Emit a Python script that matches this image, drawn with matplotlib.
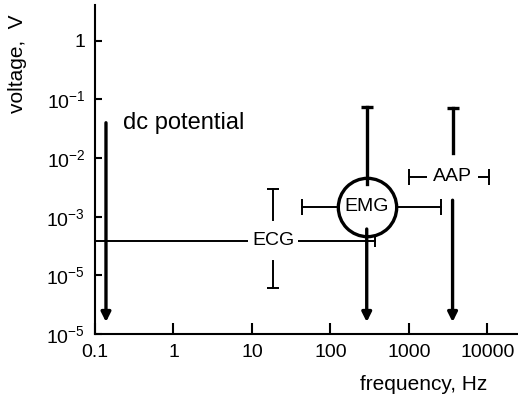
import matplotlib.pyplot as plt

plt.rcParams['font.family'] = ['Liberation Sans', 'DejaVu Sans']
plt.rcParams['mathtext.fontset'] = 'custom'
plt.rcParams['mathtext.rm'] = 'Liberation Sans'
plt.rcParams['mathtext.it'] = 'Liberation Sans:italic'
plt.rcParams['mathtext.bf'] = 'Liberation Sans:bold'

# axes
x_ticks = [0.1, 1, 10, 100, 1000, 10000]
x_ticklabels = ['0.1', '1', '10', '100', '1000', '10000']
y_ticks = [1, 1e-1, 1e-2, 1e-3, 1e-4, 1e-5]
y_ticklabels = ['1', '$10^{-1}$', '$10^{-2}$', '$10^{-3}$', '$10^{-5}$', '$10^{-5}$']

# dc potential
dc_freq = 0.138
dc_volt = [0.04, 1.6e-5]

# EMG
emg_freq = 290
emg_volt = [0.074, 1.6e-5]
emg_level = 1.48e-3
emg_freq_range = [44, 2600]

# ECG
ecg_freq = 18.6
ecg_level = 3.9e-4
ecg_volt_range = [2.95e-3, 6.2e-5]
ecg_freq_range = [0.1, 370]

# AAP
aap_freq = 3600
aap_level = 4.8e-3
aap_volt = [0.072, 1.6e-5]
aap_freq_range = [1000, 10500]

THICK, THIN = 2.4, 1.4

fig = plt.figure(figsize=(5.18, 4.04), dpi=100)
ax = fig.add_axes([95/518, 1 - 334/404, 423/518, 329/404])
ax.set_xscale('log')
ax.set_yscale('log')
ax.set_xlim(0.1, 10**4.39)
ax.set_ylim(1e-5, 10**0.61)

for s in ['top', 'right']:
    ax.spines[s].set_visible(False)
for s in ['left', 'bottom']:
    ax.spines[s].set_linewidth(1.5)
ax.set_xticks(x_ticks)
ax.set_xticklabels(x_ticklabels)
ax.set_yticks(y_ticks)
ax.set_yticklabels(y_ticklabels)
ax.minorticks_off()
ax.tick_params(axis='x', direction='in', length=8, width=1.5, labelsize=14, pad=7)
ax.tick_params(axis='y', direction='in', length=5, width=1.5, labelsize=14, pad=7)


def arrow(x, top, bottom):
    ax.annotate('', xy=(x, bottom), xytext=(x, top),
                arrowprops=dict(arrowstyle='-|>', color='k', lw=THICK,
                                mutation_scale=14, shrinkA=0, shrinkB=0),
                zorder=4)


def gap(v, dec):
    return v * 10**dec, v / 10**dec


# dc potential
arrow(dc_freq, dc_volt[0], dc_volt[1])
ax.text(0.225, dc_volt[0], 'dc potential', fontsize=17, ha='left', va='center')

# EMG
hi, lo = gap(emg_level, 0.38)
ax.plot([emg_freq, emg_freq], [emg_volt[0], hi], color='k', lw=THICK, zorder=4)
ax.plot(emg_freq, emg_volt[0], marker='_', ms=9, mew=THICK, color='k')
arrow(emg_freq, lo, emg_volt[1])
ax.plot(emg_freq_range, [emg_level] * 2, color='k', lw=THIN, zorder=2)
ax.plot(emg_freq_range, [emg_level] * 2, ls='none', marker='|', ms=11, mew=THIN, color='k')
ax.plot(emg_freq, emg_level, 'o', ms=42, mfc='white', mec='k', mew=THICK, zorder=3)
ax.text(emg_freq, emg_level, 'EMG', fontsize=14, ha='center', va='center', zorder=5)

# ECG
hi, lo = gap(ecg_level, 0.35)
ax.plot([ecg_freq, ecg_freq], [ecg_volt_range[0], hi], color='k', lw=THIN)
ax.plot([ecg_freq, ecg_freq], [lo, ecg_volt_range[1]], color='k', lw=THIN)
ax.plot([ecg_freq] * 2, ecg_volt_range, ls='none', marker='_', ms=9, mew=THIN, color='k')
ax.plot(ecg_freq_range, [ecg_level] * 2, color='k', lw=THIN, zorder=2)
ax.plot(ecg_freq_range[1], ecg_level, marker='|', ms=9, mew=THIN, color='k')
ax.text(ecg_freq, ecg_level, 'ECG', fontsize=14, ha='center', va='center', zorder=5,
        bbox=dict(facecolor='white', edgecolor='none', boxstyle='square,pad=0.2'))

# AAP
hi, lo = gap(aap_level, 0.4)
ax.plot([aap_freq, aap_freq], [aap_volt[0], hi], color='k', lw=THICK)
ax.plot(aap_freq, aap_volt[0], marker='_', ms=9, mew=THICK, color='k')
arrow(aap_freq, lo, aap_volt[1])
ax.plot(aap_freq_range, [aap_level] * 2, color='k', lw=THIN, zorder=2)
ax.plot(aap_freq_range, [aap_level] * 2, ls='none', marker='|', ms=11, mew=THIN, color='k')
ax.text(aap_freq, aap_level, 'AAP', fontsize=14, ha='center', va='center', zorder=5,
        bbox=dict(facecolor='white', edgecolor='none', boxstyle='square,pad=0.3'))

fig.text(18/518, 1 - 64/404, 'voltage,  V', rotation=90, fontsize=15, ha='center', va='center')
fig.text(424/518, 1 - 385/404, 'frequency, Hz', fontsize=15, ha='center', va='center')

fig.savefig('out.png', dpi=100)
